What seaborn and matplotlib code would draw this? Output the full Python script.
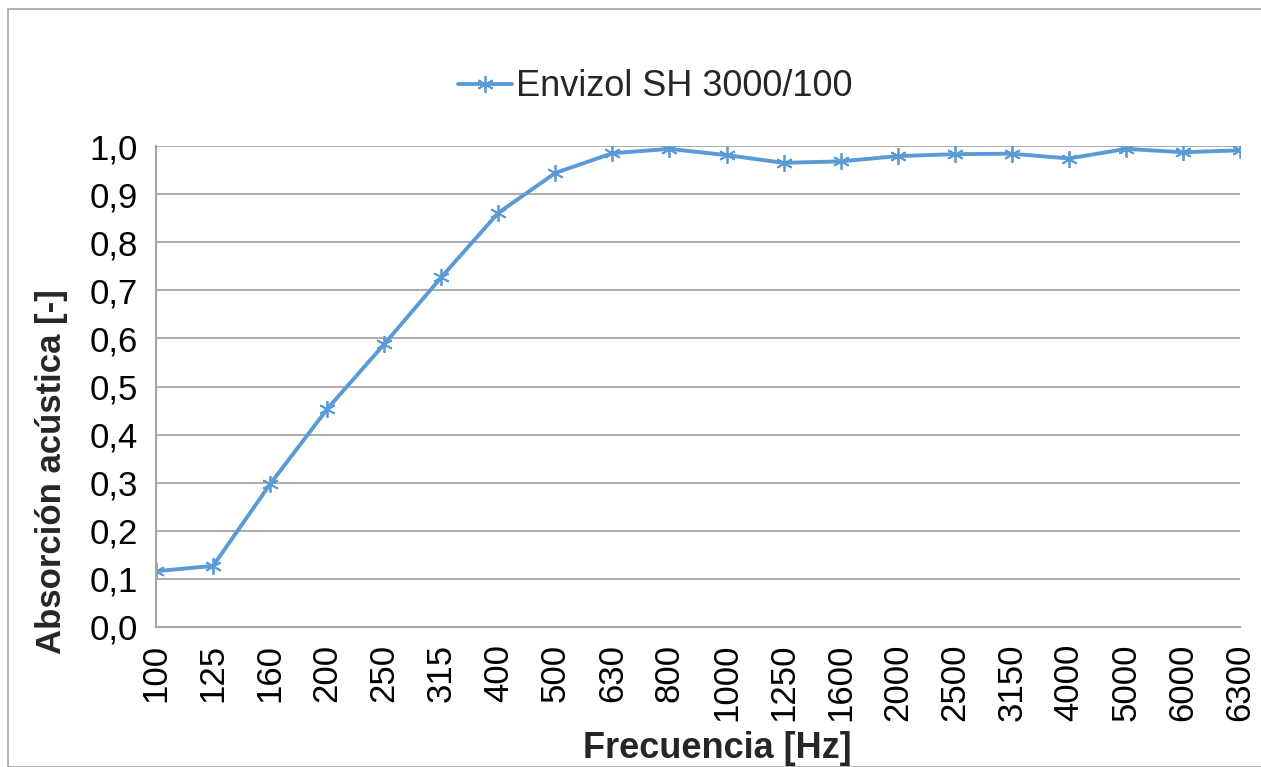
import numpy as np
import pandas as pd
import seaborn as sns
import matplotlib
matplotlib.use('Agg')
import matplotlib.pyplot as plt
from matplotlib.patches import Rectangle

frecuencias = ['100', '125', '160', '200', '250', '315', '400', '500', '630', '800',
               '1000', '1250', '1600', '2000', '2500', '3150', '4000', '5000', '6000', '6300']
absorcion = [0.116, 0.127, 0.297, 0.453, 0.588, 0.727, 0.861, 0.944, 0.985, 0.994,
             0.981, 0.965, 0.968, 0.979, 0.983, 0.984, 0.974, 0.994, 0.987, 0.991]
serie = 'Envizol SH 3000/100'
y_ticks = [0.0, 0.1, 0.2, 0.3, 0.4, 0.5, 0.6, 0.7, 0.8, 0.9, 1.0]

df = pd.DataFrame({'Frecuencia': frecuencias, 'Absorcion': absorcion})

sns.set_style('white')
plt.rcParams['font.family'] = ['Liberation Sans', 'DejaVu Sans']

W, H = 1261, 767
fig = plt.figure(figsize=(W / 100, H / 100), dpi=100)
ax = fig.add_axes([156 / W, 1 - 627 / H, (1240 - 156) / W, (627 - 146) / H])

azul = '#5B9BD5'
gris = '#A6A6A6'

sns.lineplot(data=df, x='Frecuencia', y='Absorcion', ax=ax, color=azul, linewidth=2.8,
             marker=(6, 2, 0), markersize=12, markeredgewidth=1.3, markeredgecolor=azul,
             label=serie, sort=False)

ax.set_xlim(0, len(frecuencias) - 1)
ax.set_ylim(0, 1.0)
ax.set_yticks(y_ticks)
ax.set_yticklabels([f'{v:.1f}'.replace('.', ',') for v in y_ticks])
ax.set_xticks(range(len(frecuencias)))
ax.set_xticklabels(frecuencias, rotation=90)

ax.yaxis.grid(True, color=gris, linewidth=1.3)
ax.set_axisbelow(True)
for s in ['top', 'right']:
    ax.spines[s].set_visible(False)
for s in ['left', 'bottom']:
    ax.spines[s].set_color(gris)
    ax.spines[s].set_linewidth(1.5)

ax.tick_params(axis='both', labelsize=25, colors='black', length=8, width=1.3,
               color=gris, direction='out', pad=4)
ax.tick_params(axis='y', length=10, pad=3)

ax.set_xlabel('Frecuencia [Hz]', fontsize=26, fontweight='bold', va='baseline')
ax.set_ylabel('Absorción acústica [-]', fontsize=25, fontweight='bold', va='center')
ax.xaxis.set_label_coords(0.518, (627 - 758) / 481)
ax.yaxis.set_label_coords((52 - 156) / 1084, (627 - 472) / 481)

leg = ax.legend(loc='center', bbox_to_anchor=(655 / W, 1 - 87 / H),
                bbox_transform=fig.transFigure, frameon=False, fontsize=26,
                handlelength=1.5, handletextpad=0.1)

fig.add_artist(Rectangle((8 / W, 0), 1.2, 1 - 9 / H, transform=fig.transFigure,
                         fill=False, edgecolor=gris, linewidth=1.2))

fig.savefig('out.png', dpi=100)
